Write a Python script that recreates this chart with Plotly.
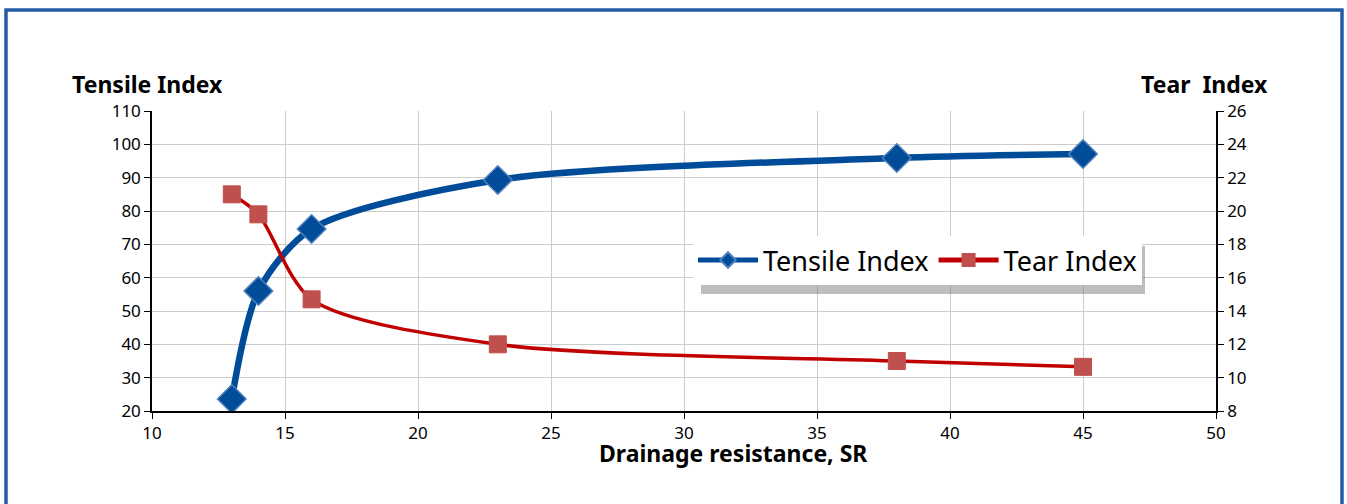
import plotly.graph_objects as go

sr = [13, 14, 16, 23, 38, 45]
tensile = [23.6, 56, 74.6, 89.3, 95.9, 97.1]
tear = [21.0, 19.8, 14.7, 12.0, 11.0, 10.65]

W, H = 1347, 504
Lr, Rr, Tr, Br = 152, 1216, 111, 411  # plot area in pixels
pw, ph = Rr - Lr, Br - Tr
L, T = Lr, Tr
R, B = W - L - pw, H - T - ph

fig = go.Figure()
fig.add_trace(go.Scatter(
    x=sr, y=tensile, name="Tensile Index", mode="lines+markers",
    line=dict(color="#004C99", width=6.5, shape="spline", smoothing=0.8),
    marker=dict(symbol="diamond", size=22, color="#004C99",
                line=dict(color="#4F81BD", width=1.5)),
    yaxis="y"))
fig.add_trace(go.Scatter(
    x=sr, y=tear, name="Tear Index", mode="lines+markers",
    line=dict(color="#C00000", width=3.5, shape="spline", smoothing=0.8),
    marker=dict(symbol="square", size=17, color="#C0504D",
                line=dict(color="#C0504D", width=1)),
    yaxis="y2"))

def px_x(p):
    return (p - Lr) / pw

def px_y(p):
    return (Br - p) / ph

shapes = [
    dict(type="rect", xref="paper", yref="paper",
         x0=px_x(6), x1=px_x(1342), y0=px_y(520), y1=px_y(10),
         line=dict(color="#1F5CA5", width=3.5), fillcolor="rgba(0,0,0,0)", layer="below"),
    dict(type="rect", xref="paper", yref="paper",
         x0=px_x(701), x1=px_x(1145), y0=px_y(294), y1=px_y(246),
         line=dict(width=0), fillcolor="rgba(110,110,110,0.45)", layer="above"),
]

fig.update_layout(
    width=W, height=H,
    margin=dict(l=L, r=R, t=T, b=B),
    paper_bgcolor="white", plot_bgcolor="white",
    font=dict(family="Noto Sans, Open Sans, sans-serif", color="black", size=17),
    showlegend=True,
    legend=dict(x=px_x(693), y=px_y(236), xanchor="left", yanchor="top",
                orientation="h", bgcolor="white", borderwidth=0,
                font=dict(size=27), itemwidth=60,
                itemsizing="constant"),
    xaxis=dict(range=[10, 50], dtick=5, tick0=10, showgrid=True, gridcolor="#CCCCCC",
               showline=True, linecolor="black", linewidth=1.5,
               ticks="outside", ticklen=6, tickcolor="black",
               zeroline=False, tickfont=dict(size=17)),
    yaxis=dict(range=[20, 110], dtick=10, tick0=20, showgrid=True, gridcolor="#CCCCCC",
               showline=True, linecolor="black", linewidth=1.5,
               ticks="outside", ticklen=6, tickcolor="black",
               zeroline=False, tickfont=dict(size=17)),
    yaxis2=dict(range=[8, 26], dtick=2, tick0=8, overlaying="y", side="right",
                showgrid=False, showline=True, linecolor="black", linewidth=1.5,
                ticks="outside", ticklen=6, tickcolor="black",
                zeroline=False, tickfont=dict(size=17)),
    shapes=shapes,
    annotations=[
        dict(text="<b>Tensile Index</b>", xref="paper", yref="paper",
             x=px_x(70), y=px_y(84), xanchor="left", yanchor="middle",
             showarrow=False, font=dict(size=23)),
        dict(text="<b>Tear  Index</b>", xref="paper", yref="paper",
             x=px_x(1270), y=px_y(84), xanchor="right", yanchor="middle",
             showarrow=False, font=dict(size=23)),
        dict(text="<b>Drainage resistance, SR</b>", xref="paper", yref="paper",
             x=px_x(733), y=px_y(453), xanchor="center", yanchor="middle",
             showarrow=False, font=dict(size=23)),
    ],
)

fig.write_html("out.html", config={"displayModeBar": False},
               post_script="document.body.style.margin='0';document.body.style.overflow='hidden';")
